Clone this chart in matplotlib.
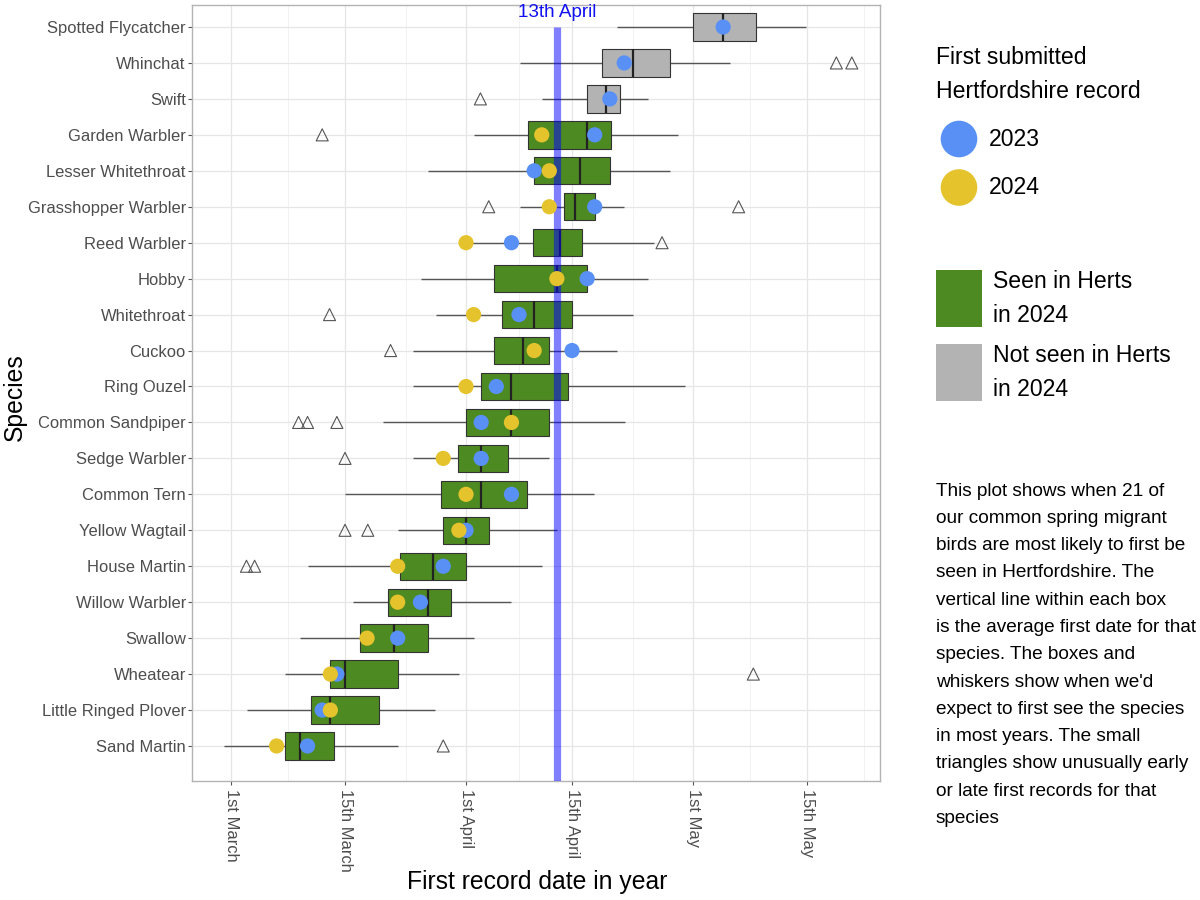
import numpy as np
import matplotlib
matplotlib.use("Agg")
import matplotlib.pyplot as plt
from matplotlib.patches import Rectangle, Circle

plt.rcParams['font.family'] = ['Liberation Sans', 'DejaVu Sans']

# ---------------- data (day of year, non-leap) ----------------
species = ["Spotted Flycatcher", "Whinchat", "Swift", "Garden Warbler",
           "Lesser Whitethroat", "Grasshopper Warbler", "Reed Warbler", "Hobby",
           "Whitethroat", "Cuckoo", "Ring Ouzel", "Common Sandpiper",
           "Sedge Warbler", "Common Tern", "Yellow Wagtail", "House Martin",
           "Willow Warbler", "Swallow", "Wheatear", "Little Ringed Plover",
           "Sand Martin"]
whisker_low = [111.0, 98.1, 101.0, 92.1, 85.7, 98.1, 91.0, 84.7, 86.8, 83.6, 83.6,
               79.3, 83.6, 74.0, 81.5, 69.4, 75.1, 68.5, 66.6, 62.0, 59.2]
box_low = [121.0, 109.0, 107.0, 99.2, 100.0, 104.0, 99.8, 94.7, 95.8, 94.7, 93.0,
           91.0, 89.9, 87.5, 87.8, 81.7, 80.1, 76.1, 72.2, 69.8, 66.6]
box_mid = [124.7, 113.0, 109.5, 107.0, 106.1, 105.4, 103.4, 103.0, 100.0, 98.5, 97.0,
           97.0, 93.0, 93.0, 91.0, 86.3, 85.7, 80.9, 74.0, 72.2, 68.5]
box_high = [128.7, 118.0, 111.3, 110.2, 110.0, 108.0, 106.3, 107.0, 105.0, 102.0, 104.5,
            102.0, 96.5, 99.0, 94.0, 91.0, 88.9, 85.7, 81.4, 78.8, 72.6]
whisker_high = [134.9, 125.6, 115.0, 119.0, 118.0, 111.9, 115.9, 115.0, 113.0, 111.0, 120.0,
                112.0, 102.0, 107.9, 103.0, 101.0, 97.0, 92.0, 90.0, 86.7, 81.4]
first_2023 = [124.7, 111.9, 110.0, 108.0, 100.0, 108.0, 97.0, 107.0, 98.0, 105.0, 95.0,
              93.0, 93.0, 97.0, 91.0, 87.8, 84.6, 81.4, 73.0, 71.2, 69.4]
first_2024 = [np.nan, np.nan, np.nan, 101.0, 102.0, 102.0, 91.0, 103.0, 92.0, 100.0, 91.0,
              97.0, 87.8, 91.0, 90.0, 81.4, 81.4, 77.1, 72.2, 72.2, 65.6]
outliers = [[], [138.6, 140.5], [92.9], [71.2], [], [94.0, 126.6], [116.9], [],
            [72.1], [80.4], [], [68.3, 69.4, 73.0], [74.0], [], [74.0, 77.2],
            [61.9, 62.9], [], [], [128.4], [], [87.8]]
seen_2024 = [False, False, False] + [True] * 18

tick_days = [60, 74, 91, 105, 121, 135]
tick_labels = ["1st March", "15th March", "1st April", "15th April", "1st May", "15th May"]
minor_days = [67, 82.5, 98, 113, 128, 142]
highlight_day = 103
highlight_label = "13th April"

description = ["This plot shows when 21 of", "our common spring migrant",
               "birds are most likely to first be", "seen in Hertfordshire. The",
               "vertical line within each box", "is the average first date for that",
               "species. The boxes and", "whiskers show when we'd",
               "expect to first see the species", "in most years. The small",
               "triangles show unusually early", "or late first records for that",
               "species"]

# ---------------- styling ----------------
C_GREEN = "#4E8A22"
C_GREY = "#B3B3B3"
C_BLUE = "#5890F6"
C_YELLOW = "#E5C32C"
TICK_COL = "#4D4D4D"

# axis spacing of the reference (labelled dates are not evenly spaced)
anchor_days = np.array([0.0] + tick_days + [200.0])
_anchor_px = [231, 345, 466, 572, 693, 807]
anchor_px = np.array([231 - 60 * 8.143] + _anchor_px + [807 + 65 * 8.143])


def fwd(d):
    return np.interp(d, anchor_days, anchor_px)


def inv(p):
    return np.interp(p, anchor_px, anchor_days)


fig = plt.figure(figsize=(12, 9), dpi=100)
ax = fig.add_axes([192 / 1200, 119 / 900, 688 / 1200, 776 / 900])
ax.set_xscale('function', functions=(fwd, inv))
ax.set_xlim(55.21, 143.96)
Y0, Y1 = 0.026, 21.612
ax.set_ylim(Y0, Y1)

n = len(species)
ys = np.arange(n, 0, -1)  # top row = 21
BH = 0.76

ax.set_axisbelow(True)
ax.grid(which='major', color='#E6E6E6', lw=0.9)
ax.set_xticks(tick_days, tick_labels)
ax.set_xticks(minor_days, minor=True)
ax.grid(which='minor', axis='x', color='#F0F0F0', lw=0.6)
ax.set_yticks(ys, species)

# whiskers
ax.hlines(ys, whisker_low, whisker_high, color='#555555', lw=1.0, zorder=1)
# boxes
colors = [C_GREEN if s else C_GREY for s in seen_2024]
ax.barh(ys, np.array(box_high) - np.array(box_low), left=box_low, height=BH,
        color=colors, edgecolor='#333333', linewidth=0.8, zorder=2)
ax.vlines(box_mid, ys - BH / 2, ys + BH / 2, color='#222222', lw=1.6, zorder=3)

# highlighted date
ax.vlines(highlight_day, Y0, ys[0], color=(0, 0, 1, 0.5), lw=5.2, zorder=4)
ax.text(highlight_day, ys[0] + 0.39, highlight_label, color='#1010F0', fontsize=13.6,
        ha='center', va='center', zorder=6)

# unusual records
ox = [v for row in outliers for v in row]
oy = [y for y, row in zip(ys, outliers) for _ in row]
ax.scatter(ox, oy, marker='^', s=75, facecolors='none', edgecolors='#555555',
           linewidths=0.8, zorder=5)

# yearly first records
ax.scatter(first_2023, ys, s=120, color=C_BLUE, edgecolors='none', zorder=6)
ax.scatter(first_2024, ys, s=120, color=C_YELLOW, edgecolors='none', zorder=7)

for sp in ax.spines.values():
    sp.set_color('#B3B3B3')
    sp.set_linewidth(1.0)
ax.tick_params(axis='both', which='major', length=3, width=0.8, color='#555555',
               labelcolor=TICK_COL, labelsize=11.9, pad=1.5)
ax.tick_params(axis='x', which='major', labelrotation=-90, pad=2.5)
ax.tick_params(axis='x', which='minor', length=0)

fig.text(537 / 1200, 1 - 882 / 900, "First record date in year", fontsize=17.8,
         ha='center', va='center')
fig.text(15 / 1200, 1 - 397 / 900, "Species", fontsize=17.8, rotation=90,
         ha='center', va='center')

# ---------------- legend & note (pixel overlay) ----------------
lax = fig.add_axes([0, 0, 1, 1])
lax.set_xlim(0, 1200)
lax.set_ylim(900, 0)
lax.axis('off')

lax.text(936, 57, "First submitted", fontsize=16.6, ha='left', va='center')
lax.text(936, 91, "Hertfordshire record", fontsize=16.6, ha='left', va='center')
lax.add_patch(Circle((959, 139), 18.3, color=C_BLUE, lw=0))
lax.text(989, 139, "2023", fontsize=16.6, ha='left', va='center')
lax.add_patch(Circle((959, 187.5), 18.3, color=C_YELLOW, lw=0))
lax.text(989, 187.5, "2024", fontsize=16.6, ha='left', va='center')

lax.add_patch(Rectangle((936, 270), 46, 57, color=C_GREEN, lw=0))
lax.text(993, 282, "Seen in Herts", fontsize=16.6, ha='left', va='center')
lax.text(993, 316, "in 2024", fontsize=16.6, ha='left', va='center')
lax.add_patch(Rectangle((936, 344), 46, 57, color=C_GREY, lw=0))
lax.text(993, 356, "Not seen in Herts", fontsize=16.6, ha='left', va='center')
lax.text(993, 389, "in 2024", fontsize=16.6, ha='left', va='center')

for i, line in enumerate(description):
    lax.text(936, 491 + i * 27.3, line, fontsize=13.7, ha='left', va='center')

fig.savefig("out.png", dpi=100)
